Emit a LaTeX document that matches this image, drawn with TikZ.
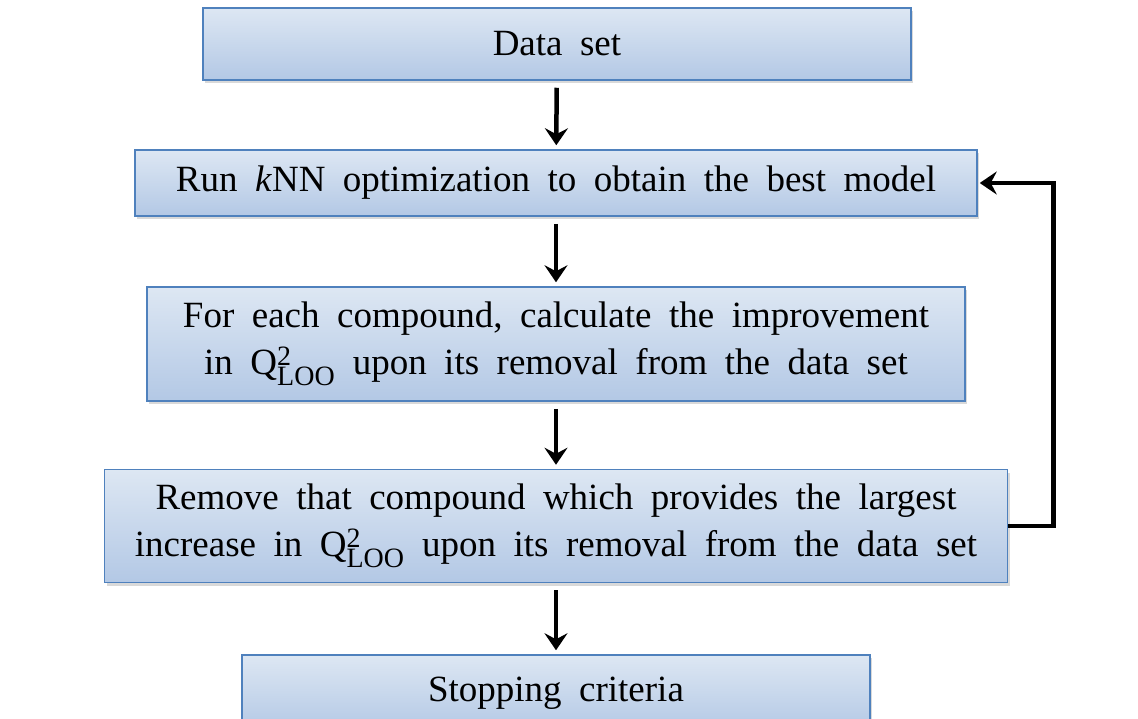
\documentclass[tikz,border=0pt]{standalone}
\usepackage{fontspec}
\setmainfont{Liberation Serif}
\usetikzlibrary{arrows.meta, positioning, calc, shadows}

\definecolor{boxtop}{HTML}{DDE7F3}
\definecolor{boxbot}{HTML}{B3C8E5}
\definecolor{boxline}{HTML}{4F81BD}

\newcommand{\boxfont}{\fontsize{37}{47}\selectfont\spaceskip=17.5pt\relax}
\newcommand{\qloo}{Q$^{\mbox{\fontsize{28}{28}\selectfont 2}}_{\mbox{\fontsize{28}{28}\selectfont LOO}}$}

\begin{document}
\begin{tikzpicture}[x=1pt, y=-1pt,
    stagebox/.style={draw=boxline, line width=1.5pt, top color=boxtop, bottom color=boxbot,
        drop shadow={shadow xshift=2pt, shadow yshift=-3pt, opacity=0.3},
        font=\boxfont, align=center, inner sep=0pt},
    flow/.style={-{Stealth[length=17pt, width=23pt, inset=6pt]}, line width=4.5pt}]
    \clip (0,0) rectangle (1138,718);
    \node[stagebox, minimum width=708, minimum height=72] (data) at (557,44) {Data set};
    \node[stagebox, minimum width=842, minimum height=66] (knn) at (556,183)
        {Run \textit{k}NN optimization to obtain the best model};
    \node[stagebox, minimum width=818, minimum height=114] (improve) at (556,344)
        {For each compound, calculate the improvement\\in \qloo{} upon its removal from the data set};
    \node[stagebox, minimum width=903, minimum height=113] (remove) at (556,526)
        {Remove that compound which provides the largest\\increase in \qloo{} upon its removal from the data set};
    \node[stagebox, minimum width=628, minimum height=76] (stop) at (556,693) {Stopping criteria};

    \draw[flow, shorten <=7pt, shorten >=4pt] (data) -- (knn);
    \draw[flow, shorten <=7pt, shorten >=4pt] (knn) -- (improve);
    \draw[flow, shorten <=7pt, shorten >=4pt] (improve) -- (remove);
    \draw[flow, shorten <=7pt, shorten >=4pt] (remove) -- (stop);
    \draw[flow, shorten >=2pt] (remove.east) -- ++(45,0) |- (knn.east);
\end{tikzpicture}
\end{document}
